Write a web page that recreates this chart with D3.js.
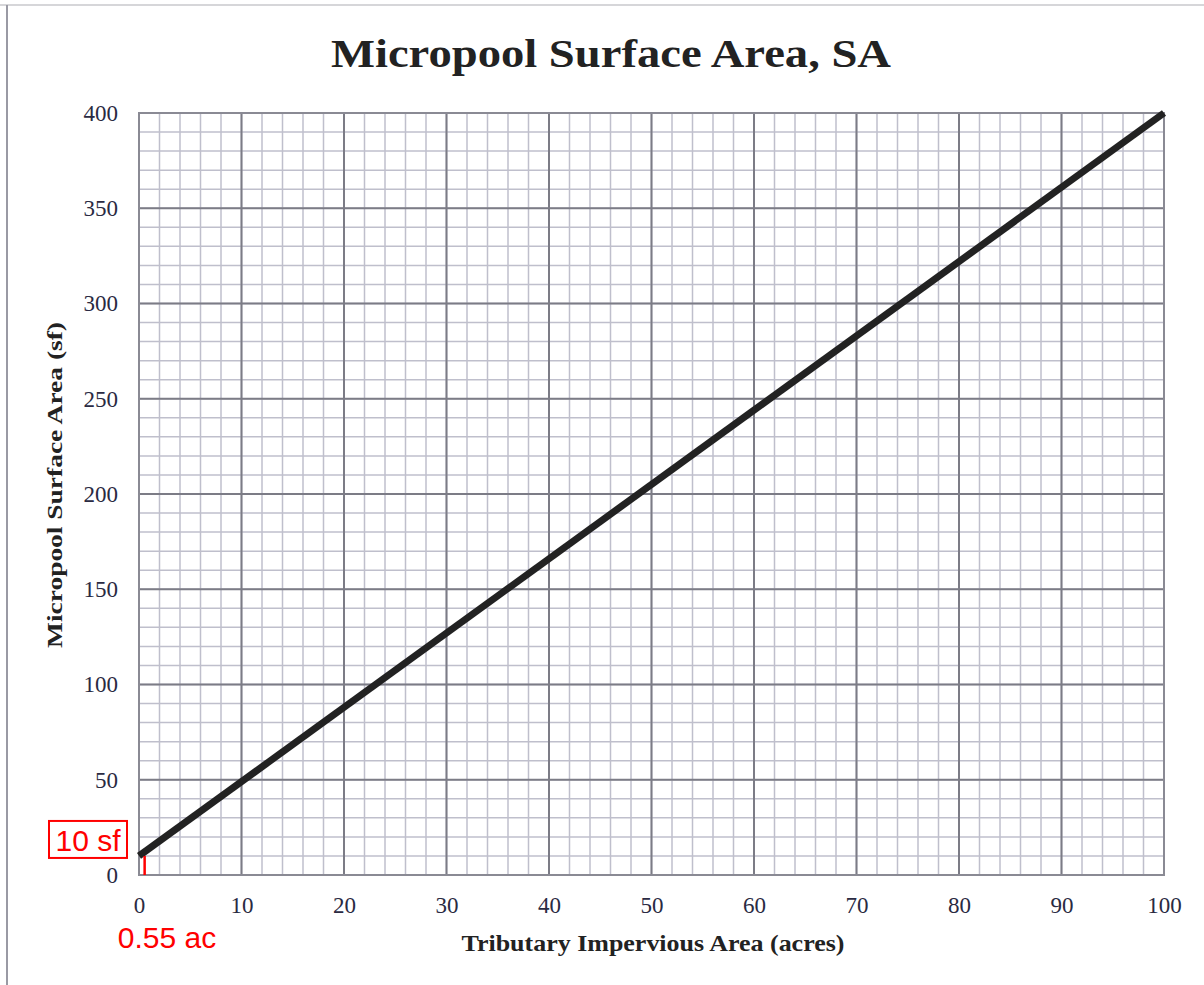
<!DOCTYPE html>
<html>
<head>
<meta charset="utf-8">
<script src="https://cdn.jsdelivr.net/npm/d3@7/dist/d3.min.js"></script>
<style>
  body { margin: 0; background: #fff; }
  svg { display: block; }
</style>
</head>
<body>
<svg id="chart" width="1204" height="985"></svg>
<script>
// values
let lineX = [0, 100];        // tributary impervious area (acres)
let lineY = [10, 400];       // micropool surface area (sf)
let xTicks = [0, 10, 20, 30, 40, 50, 60, 70, 80, 90, 100];
let yTicks = [0, 50, 100, 150, 200, 250, 300, 350, 400];
let annX = 0.55, annY = 10;  // red callout

let svg = d3.select("#chart");

let x = d3.scaleLinear().domain([0, 100]).range([139, 1164]);
let y = d3.scaleLinear().domain([0, 400]).range([875, 113]);

// page frame (scan edges)
svg.append("line").attr("x1", 0).attr("x2", 1204).attr("y1", 5).attr("y2", 5)
  .attr("stroke", "#c8c8cc").attr("stroke-width", 1.5);
svg.append("line").attr("x1", 7).attr("x2", 7).attr("y1", 5).attr("y2", 985)
  .attr("stroke", "#9a9aa4").attr("stroke-width", 2);

svg.append("text")
  .attr("x", 611).attr("y", 67)
  .attr("text-anchor", "middle")
  .attr("textLength", 560).attr("lengthAdjust", "spacingAndGlyphs")
  .style("font-family", "'Liberation Serif', serif")
  .style("font-weight", "bold")
  .style("font-size", "41px")
  .attr("fill", "#222")
  .text("Micropool Surface Area, SA");

let grid = svg.append("g");

// minor grid
grid.selectAll(".vminor").data(d3.range(0, 101, 2)).enter().append("line")
  .attr("x1", d => x(d)).attr("x2", d => x(d))
  .attr("y1", y(0)).attr("y2", y(400))
  .attr("stroke", "#bfbfcc").attr("stroke-width", 1.5);
grid.selectAll(".hminor").data(d3.range(0, 401, 10)).enter().append("line")
  .attr("y1", d => y(d)).attr("y2", d => y(d))
  .attr("x1", x(0)).attr("x2", x(100))
  .attr("stroke", "#bfbfcc").attr("stroke-width", 1.5);

// major grid
grid.selectAll(".vmajor").data(xTicks).enter().append("line")
  .attr("x1", d => x(d)).attr("x2", d => x(d))
  .attr("y1", y(0)).attr("y2", y(400))
  .attr("stroke", "#7c7c86").attr("stroke-width", 2);
grid.selectAll(".hmajor").data(yTicks).enter().append("line")
  .attr("y1", d => y(d)).attr("y2", d => y(d))
  .attr("x1", x(0)).attr("x2", x(100))
  .attr("stroke", "#7c7c86").attr("stroke-width", 2);

grid.append("rect")
  .attr("x", x(0)).attr("y", y(400))
  .attr("width", x(100) - x(0)).attr("height", y(0) - y(400))
  .attr("fill", "none").attr("stroke", "#8a8a94").attr("stroke-width", 2);

// axes (labels only)
let xAxis = svg.append("g").attr("transform", `translate(0,${y(0)})`)
  .call(d3.axisBottom(x).tickValues(xTicks).tickSize(0).tickPadding(22));
let yAxis = svg.append("g").attr("transform", `translate(${x(0)},0)`)
  .call(d3.axisLeft(y).tickValues(yTicks).tickSize(0).tickPadding(21));
[xAxis, yAxis].forEach(a => {
  a.select(".domain").remove();
  a.selectAll("text")
    .style("font-family", "'Liberation Serif', serif")
    .style("font-size", "23px")
    .attr("fill", "#2a2a42");
});

svg.append("text")
  .attr("x", 653).attr("y", 951)
  .attr("text-anchor", "middle")
  .attr("textLength", 383).attr("lengthAdjust", "spacingAndGlyphs")
  .style("font-family", "'Liberation Serif', serif")
  .style("font-weight", "bold")
  .style("font-size", "23px")
  .attr("fill", "#222")
  .text("Tributary Impervious Area (acres)");

svg.append("text")
  .attr("transform", "translate(62,485) rotate(-90)")
  .attr("text-anchor", "middle")
  .attr("textLength", 326).attr("lengthAdjust", "spacingAndGlyphs")
  .style("font-family", "'Liberation Serif', serif")
  .style("font-weight", "bold")
  .style("font-size", "22px")
  .attr("fill", "#222")
  .text("Micropool Surface Area (sf)");

// design line
let line = d3.line().x(d => x(d[0])).y(d => y(d[1]));
svg.append("path")
  .datum(d3.zip(lineX, lineY))
  .attr("d", line)
  .attr("fill", "none")
  .attr("stroke", "#222")
  .attr("stroke-width", 7);

// red callout
svg.append("line")
  .attr("x1", x(annX)).attr("x2", x(annX))
  .attr("y1", y(0)).attr("y2", y(annY))
  .attr("stroke", "red").attr("stroke-width", 2.5);
svg.append("rect")
  .attr("x", 49).attr("y", y(annY) - 35)
  .attr("width", 78).attr("height", 37)
  .attr("fill", "#fff").attr("stroke", "red").attr("stroke-width", 2);
svg.append("text")
  .attr("x", 88).attr("y", y(annY) - 5)
  .attr("text-anchor", "middle")
  .style("font-family", "'Liberation Sans', Arial, sans-serif")
  .style("font-size", "30px")
  .attr("fill", "red")
  .text(annY + " sf");
svg.append("text")
  .attr("x", 167).attr("y", 948)
  .attr("text-anchor", "middle")
  .style("font-family", "'Liberation Sans', Arial, sans-serif")
  .style("font-size", "30px")
  .attr("fill", "red")
  .text(annX + " ac");
</script>
</body>
</html>
